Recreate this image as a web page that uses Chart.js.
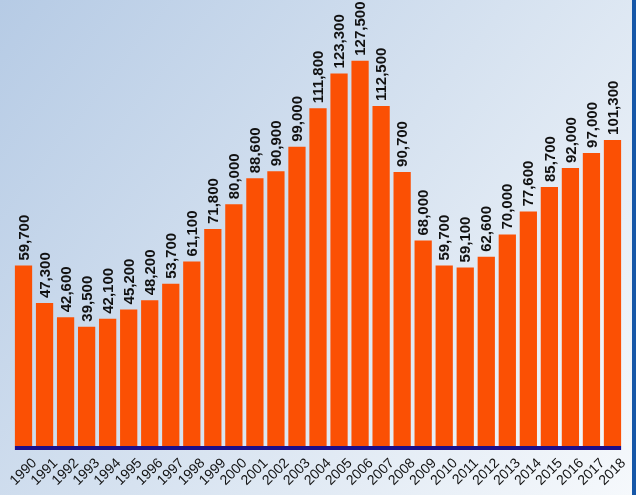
<!DOCTYPE html>
<html>
<head>
<meta charset="utf-8">
<script src="https://cdn.jsdelivr.net/npm/chart.js@4"></script>
<style>
  html, body { margin:0; padding:0; background:#fff; }
  #wrap { width:636px; height:495px; }
</style>
</head>
<body>
<div id="wrap"><canvas id="c" width="636" height="495"></canvas></div>
<script>
const FONT = "'Liberation Sans', Arial, sans-serif";
const YEARS = ['1990','1991','1992','1993','1994','1995','1996','1997','1998','1999',
  '2000','2001','2002','2003','2004','2005','2006','2007','2008','2009',
  '2010','2011','2012','2013','2014','2015','2016','2017','2018'];
const VALUES = [59700, 47300, 42600, 39500, 42100, 45200, 48200, 53700, 61100, 71800,
  80000, 88600, 90900, 99000, 111800, 123300, 127500, 112500, 90700, 68000,
  59700, 59100, 62600, 70000, 77600, 85700, 92000, 97000, 101300];
const BAR_COLOR = '#fb5004';

// fondo degradado + borde derecho
const fondo = {
  id: 'fondo',
  beforeDraw(chart) {
    const { ctx, width, height } = chart;
    ctx.save();
    const g = ctx.createLinearGradient(0, 0, width, height);
    g.addColorStop(0, '#b6cbe5');
    g.addColorStop(0.5, '#d6e2f0');
    g.addColorStop(1, '#f6f9fc');
    ctx.fillStyle = g;
    ctx.fillRect(0, 0, width, height);
    ctx.fillStyle = '#1657a8';
    ctx.fillRect(width - 4, 0, 4, height);
    ctx.restore();
  }
};

// etiquetas verticales encima de las barras + linea base
const etiquetas = {
  id: 'etiquetas',
  afterDatasetsDraw(chart) {
    const { ctx } = chart;
    const bars = chart.getDatasetMeta(0).data;
    ctx.save();
    ctx.font = `bold 15px ${FONT}`;
    ctx.fillStyle = '#111';
    ctx.textAlign = 'left';
    ctx.textBaseline = 'middle';
    bars.forEach((el, i) => {
      ctx.save();
      ctx.translate(el.x, el.y - 5);
      ctx.rotate(-Math.PI / 2);
      ctx.fillText(VALUES[i].toLocaleString('en-US'), 0, 1);
      ctx.restore();
    });
    const first = bars[0], last = bars[bars.length - 1];
    const x0 = first.x - first.width / 2, x1 = last.x + last.width / 2;
    ctx.fillStyle = '#1c0f8a';
    ctx.fillRect(x0, chart.chartArea.bottom, x1 - x0, 4);
    ctx.restore();
  }
};

new Chart(document.getElementById('c'), {
  type: 'bar',
  data: {
    labels: YEARS,
    datasets: [{ data: VALUES, backgroundColor: BAR_COLOR, categoryPercentage: 1, barPercentage: 0.82 }]
  },
  options: {
    responsive: false,
    animation: false,
    layout: { padding: { top: 0, left: 13, right: 13, bottom: 0 } },
    plugins: { legend: { display: false }, tooltip: { enabled: false } },
    scales: {
      x: {
        grid: { display: false, drawTicks: false },
        border: { display: false },
        ticks: { font: { family: FONT, size: 14 }, color: '#111', autoSkip: false, minRotation: 45, maxRotation: 45, padding: 9, labelOffset: 11 },
        afterFit(scale) {
          scale.height = 49;
          scale.paddingLeft = 0;
          scale.paddingRight = 0;
        }
      },
      y: { display: false, min: 0, max: 147600 }
    }
  },
  plugins: [fondo, etiquetas]
});
</script>
</body>
</html>
